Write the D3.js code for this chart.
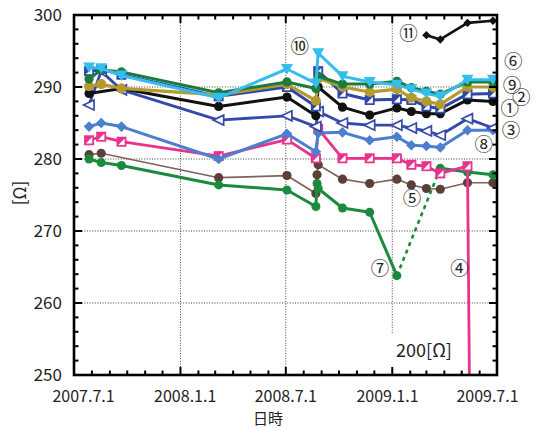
<!DOCTYPE html>
<html>
<head>
<meta charset="utf-8">
<script src="https://cdn.jsdelivr.net/npm/d3@7"></script>
<style>
  html, body { margin: 0; padding: 0; background: #fff; }
  svg { display: block; font-family: "Noto Sans CJK JP", "DejaVu Sans", sans-serif; }
</style>
</head>
<body>
<svg id="chart" width="538" height="428"></svg>
<script>
// ---------- DATA ----------
const dates = [
  "2007-07-27","2007-08-17","2007-09-21","2008-03-07","2008-07-03",
  "2008-08-22","2008-08-24","2008-08-26","2008-10-07","2008-11-23",
  "2009-01-09","2009-02-03","2009-03-01","2009-03-25","2009-05-11",
  "2009-05-20","2009-06-24"
];
const sCyan   = [292.7,292.6,291.6,288.5,292.5,290.5,null,294.7,291.5,290.7,290.3,289.7,289.1,288.7,291.0,null,291.0];
const sGreen  = [291.1,292.4,292.1,289.2,290.7,289.8,null,291.5,290.4,290.4,290.8,289.9,289.4,289.0,290.7,null,290.7];
const sGold   = [290.1,290.4,289.8,288.9,290.4,288.1,null,291.2,290.0,289.3,289.7,288.5,288.0,287.6,290.0,null,290.0];
const sBlue   = [292.2,292.5,291.7,288.7,290.0,287.3,null,292.2,289.1,288.2,288.3,288.2,287.3,287.0,289.0,null,289.1];
const sBlack  = [289.1,null,289.8,287.3,288.6,286.0,null,290.0,287.2,286.1,287.1,286.6,286.3,286.3,288.2,null,288.0];
const sOpenTri= [287.5,292.2,289.6,285.4,286.0,284.5,null,286.6,285.0,284.7,284.7,284.3,283.9,283.3,285.6,null,284.3];
const sLight  = [284.5,285.0,284.5,280.0,283.5,281.0,null,283.6,283.7,282.6,283.1,281.9,281.8,281.6,284.0,null,284.0];
const sPink   = [282.6,283.1,282.4,280.4,282.7,280.1,null,284.2,280.1,280.1,280.1,279.2,279.0,278.0,279.0,200.0,null];
const sBrown  = [280.6,280.8,null,277.4,277.7,275.2,277.8,279.2,277.2,276.6,277.2,276.4,275.9,275.8,276.7,null,276.7];
const s7a     = [280.0,279.5,279.1,276.4,275.7,273.4,276.6,275.9,273.2,272.6,263.8,null,null,null,null,null,null];
const s7b     = [null,null,null,null,null,null,null,null,null,null,null,null,null,278.7,278.2,null,277.8];
const s7gap   = [10, 13];   // indices joined by the dashed line
const s11     = [null,null,null,null,null,null,null,null,null,null,null,null,297.2,296.6,298.9,null,299.2];

const xTickLabels = ["2007.7.1","2008.1.1","2008.7.1","2009.1.1","2009.7.1"];
const xTickDates  = ["2007-07-01","2008-01-01","2008-07-01","2009-01-01","2009-07-01"];
const yTicks = [250,260,270,280,290,300];

const notes = [
  {t:"⑩", d:"2008-07-25", v:295.6},
  {t:"⑪", d:"2009-01-29", v:297.5},
  {t:"⑥", d:"2009-07-29", v:293.6},
  {t:"⑨", d:"2009-07-27", v:290.3},
  {t:"②", d:"2009-08-12", v:288.6},
  {t:"①", d:"2009-07-23", v:287.1},
  {t:"③", d:"2009-07-25", v:284.0},
  {t:"⑧", d:"2009-06-08", v:282.1},
  {t:"⑤", d:"2009-02-04", v:274.6},
  {t:"⑦", d:"2008-12-11", v:264.8},
  {t:"④", d:"2009-04-27", v:264.8}
];

// ---------- SETUP ----------
const parse = d3.timeParse("%Y-%m-%d");
const D = dates.map(parse);
const svg = d3.select("#chart");
const L = 74, R = 497, T = 15, B = 375;
const x = d3.scaleTime().domain([parse("2007-07-01"), parse("2009-07-01")]).range([L, R]);
const y = d3.scaleLinear().domain([250, 300]).range([B, T]);

svg.append("defs").append("clipPath").attr("id","clip")
  .append("rect").attr("x",L).attr("y",T).attr("width",R-L).attr("height",B-T);

// grid
const grid = svg.append("g").attr("stroke","#444").attr("stroke-width",1).attr("stroke-dasharray","1,1.6");
[260,270,280,290].forEach(v => grid.append("line").attr("x1",L).attr("x2",R).attr("y1",y(v)).attr("y2",y(v)));
["2008-01-01","2008-07-01","2009-01-01"].forEach(d => grid.append("line")
  .attr("x1",x(parse(d))).attr("x2",x(parse(d))).attr("y1",T).attr("y2",B));

// white box for the "200[Ω]" note
svg.append("rect").attr("x",384).attr("y",333).attr("width",78).attr("height",40).attr("fill","#fff");

const plot = svg.append("g").attr("clip-path","url(#clip)");

function pts(arr){ return arr.map((v,i)=>({d:D[i],v})).filter(p=>p.v!==null); }
const line = d3.line().x(p=>x(p.d)).y(p=>y(p.v));

function drawSeries(arr, color, width, marker, mcolor, dash){
  const p = pts(arr);
  plot.append("path").datum(p).attr("d",line).attr("fill","none")
    .attr("stroke",color).attr("stroke-width",width).attr("stroke-linejoin","round")
    .attr("stroke-dasharray",dash||null);
  const g = plot.append("g");
  p.forEach(q => marker(g, x(q.d), y(q.v), mcolor || color));
}
const circle = r => (g,cx,cy,c) => g.append("circle").attr("cx",cx).attr("cy",cy).attr("r",r).attr("fill",c);
const triDown = (g,cx,cy,c) => g.append("path").attr("d",`M${cx-6},${cy-5}L${cx+6},${cy-5}L${cx},${cy+5.5}Z`).attr("fill",c);
const triLeftOpen = (g,cx,cy,c) => g.append("path").attr("d",`M${cx-5.5},${cy}L${cx+5},${cy-5}L${cx+5},${cy+5}Z`)
  .attr("fill","#fff").attr("stroke",c).attr("stroke-width",1.7);
const diamond = s => (g,cx,cy,c) => g.append("path").attr("d",`M${cx},${cy-s}L${cx+s},${cy}L${cx},${cy+s}L${cx-s},${cy}Z`).attr("fill",c);
const halfSquare = (g,cx,cy,c) => {
  g.append("rect").attr("x",cx-5).attr("y",cy-5).attr("width",10).attr("height",10).attr("fill",c);
  g.append("path").attr("d",`M${cx-3.2},${cy+3.2}L${cx+3.2},${cy-3.2}L${cx+3.2},${cy+3.2}Z`).attr("fill","#fff");
};

// draw order bottom -> top
drawSeries(sBrown, "#7d645c", 1.7, circle(4.6), "#5b4039");
drawSeries(s7a, "#1b8a3e", 3, circle(4.5));
drawSeries(s7b, "#1b8a3e", 3, circle(4.5));
plot.append("path").datum([{d:D[s7gap[0]],v:s7a[s7gap[0]]},{d:D[s7gap[1]],v:s7b[s7gap[1]]}])
  .attr("d",line).attr("fill","none").attr("stroke","#1b8a3e").attr("stroke-width",2.6).attr("stroke-dasharray","4,4");
drawSeries(sPink, "#e8338c", 2.8, halfSquare);
drawSeries(sLight, "#4d7fcf", 3, diamond(5.3));
drawSeries(sOpenTri, "#3549ac", 2.8, triLeftOpen);
drawSeries(sBlack, "#111", 3, circle(4.6));
drawSeries(sBlue, "#2f48a8", 3, halfSquare);
drawSeries(sGold, "#b59a2e", 3.2, circle(5));
drawSeries(sGreen, "#1b7a3e", 3, circle(4.6));
drawSeries(sCyan, "#35bdec", 3, triDown);
drawSeries(s11, "#111", 2.6, diamond(4.2));

// axes ticks (inward)
const ax = svg.append("g").attr("stroke","#000");
const months = d3.timeMonth.range(parse("2007-07-01"), parse("2009-07-02"));
months.forEach(m => {
  const major = (m.getMonth() % 6 === 0);
  const len = major ? 8 : 4.5;
  const xx = x(m);
  ax.append("line").attr("x1",xx).attr("x2",xx).attr("y1",B).attr("y2",B-len).attr("stroke-width",2);
  ax.append("line").attr("x1",xx).attr("x2",xx).attr("y1",T).attr("y2",T+len).attr("stroke-width",2);
});
d3.range(250, 300.1, 2).forEach(v => {
  const major = (v % 10 === 0);
  const len = major ? 8 : 4.5;
  ax.append("line").attr("x1",L).attr("x2",L+len).attr("y1",y(v)).attr("y2",y(v)).attr("stroke-width",2);
  ax.append("line").attr("x1",R).attr("x2",R-len).attr("y1",y(v)).attr("y2",y(v)).attr("stroke-width",2);
});
svg.append("rect").attr("x",L).attr("y",T).attr("width",R-L).attr("height",B-T)
  .attr("fill","none").attr("stroke","#000").attr("stroke-width",2.6);

// tick labels
yTicks.forEach(v => svg.append("text").attr("x",62).attr("y",y(v)).attr("dy","0.36em")
  .attr("text-anchor","end").attr("font-size",17).attr("fill","#222").text(v));
const cx0 = x(parse("2008-07-01"));
xTickDates.forEach((d,i) => {
  const xx = cx0 + (x(parse(d)) - cx0) * 0.955;
  svg.append("text").attr("x",xx).attr("y",401.5).attr("text-anchor","middle")
    .attr("font-size",16).attr("fill","#222").text(xTickLabels[i]);
});
svg.append("text").attr("x",268).attr("y",423.6).attr("text-anchor","middle")
  .attr("font-size",15).attr("fill","#222").text("日時");
svg.append("text").attr("transform","translate(26,193) rotate(-90)").attr("text-anchor","middle")
  .attr("font-size",17).attr("fill","#222").text("[Ω]");

// annotations
notes.forEach(n => svg.append("text").attr("x",x(parse(n.d))).attr("y",y(n.v)).attr("dy","0.36em")
  .attr("text-anchor","middle").attr("font-size",18.5).attr("fill","#222").text(n.t));
svg.append("text").attr("x",424).attr("y",357).attr("text-anchor","middle")
  .attr("font-size",18).attr("fill","#222").text("200[Ω]");
</script>
</body>
</html>
